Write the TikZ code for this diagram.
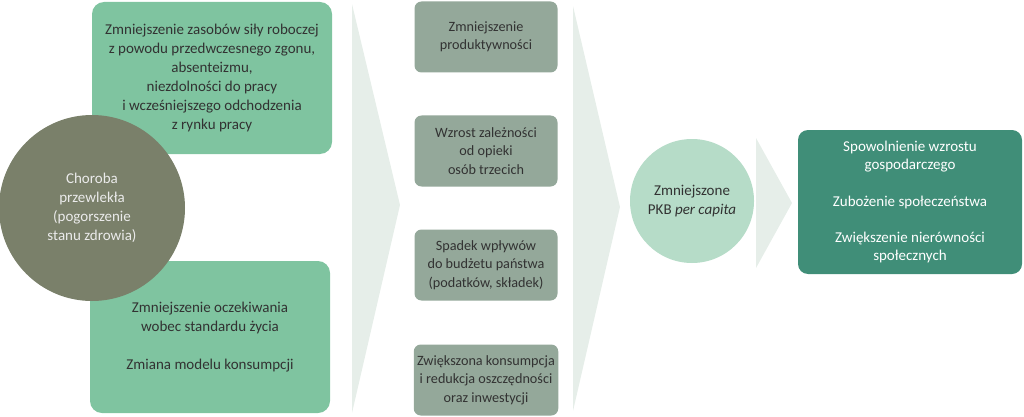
\documentclass[tikz,border=0pt]{standalone}
\usepackage{fontspec}
\setmainfont{Carlito}

\definecolor{effgreen}{RGB}{127,196,160}
\definecolor{illcircle}{RGB}{122,128,106}
\definecolor{midgray}{RGB}{148,168,154}
\definecolor{gdpmint}{RGB}{182,220,200}
\definecolor{outteal}{RGB}{64,142,120}
\definecolor{chevron}{RGB}{230,238,233}
\definecolor{darktext}{RGB}{50,50,50}

\begin{document}
\begin{tikzpicture}[x = 1pt, y = -1pt,
        every node/.style={font=\fontsize{15}{19}\selectfont, align=center},
        effbox/.style={rectangle, rounded corners=12pt, fill=effgreen, text=darktext, minimum width=240pt, minimum height=152pt},
        midbox/.style={rectangle, rounded corners=7pt, fill=midgray, text=darktext, minimum width=143pt, minimum height=71pt, font=\fontsize{14.2}{18.3}\selectfont},
        ill/.style={circle, fill=illcircle, text=white!92!black, minimum size=186pt, inner sep=0pt},
        gdp/.style={circle, fill=gdpmint, text=darktext, minimum size=124pt, inner sep=0pt},
        result/.style={rectangle, rounded corners=10pt, fill=outteal, text=white, minimum width=224pt, minimum height=144pt, font=\fontsize{15}{18.3}\selectfont}]

        \useasboundingbox (0, 0) rectangle (1024, 417);

        % chevrons in the background
        \fill[chevron] (352, 4) -- (400, 205) -- (352, 413) -- cycle;
        \fill[chevron] (573, 6) -- (620, 207) -- (573, 411) -- cycle;
        \fill[chevron] (756, 138) -- (792, 203) -- (756, 268) -- cycle;

        \node[effbox] at (212, 78) (labour){Zmniejszenie zasobów siły roboczej\\z powodu przedwczesnego zgonu,\\absenteizmu,\\niezdolności do pracy\\i wcześniejszego odchodzenia\\z rynku pracy};
        \node[effbox] at (210, 337) (expect){Zmniejszenie oczekiwania\\wobec standardu życia\\[19pt]Zmiana modelu konsumpcji};

        \node[ill] at (92, 208) (illness){Choroba\\przewlekła\\(pogorszenie\\stanu zdrowia)};

        \node[midbox] at (486, 37) (prod){Zmniejszenie\\produktywności};
        \node[midbox] at (486, 151) (care){Wzrost zależności\\od opieki\\osób trzecich};
        \node[midbox] at (486, 265) (budget){Spadek wpływów\\do budżetu państwa\\(podatków, składek)};
        \node[midbox] at (486, 380) (consum){Zwiększona konsumpcja\\i redukcja oszczędności\\oraz inwestycji};

        \node[gdp] at (692, 201) (gdp){Zmniejszone\\PKB \textit{per capita}};

        \node[result] at (910, 202) (outcome){Spowolnienie wzrostu\\gospodarczego\\[18pt]Zubożenie społeczeństwa\\[18pt]Zwiększenie nierówności\\społecznych};
\end{tikzpicture}
\end{document}
